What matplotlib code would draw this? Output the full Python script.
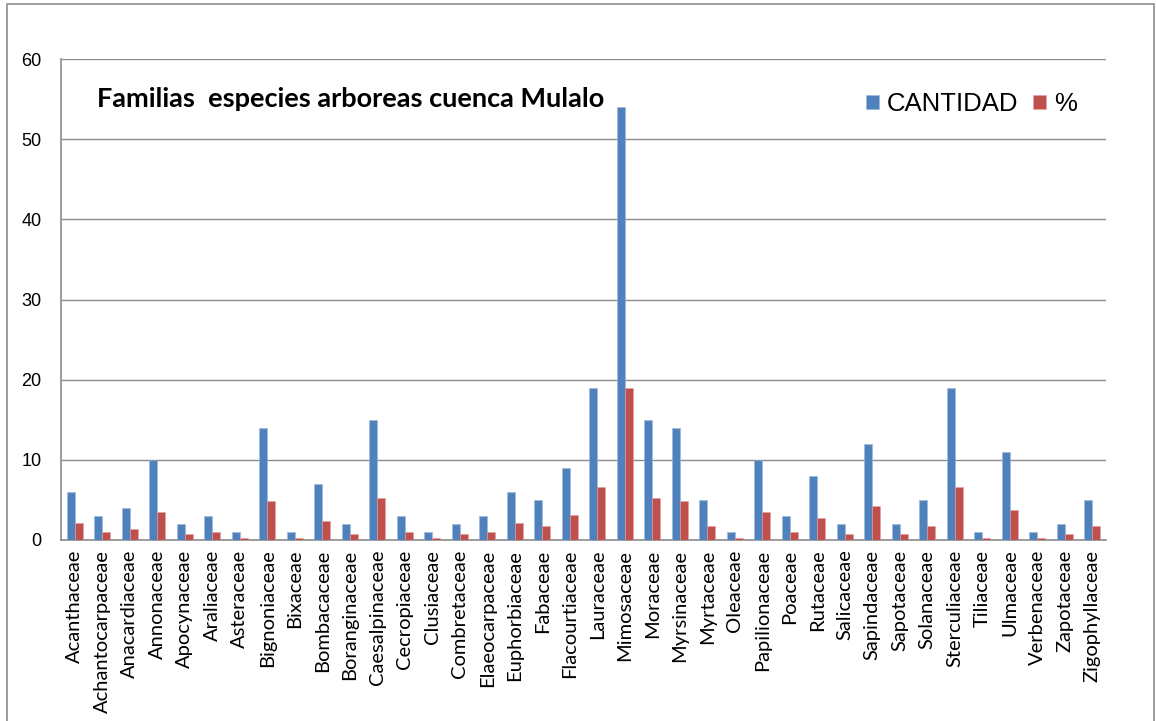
import matplotlib
matplotlib.use("Agg")
import matplotlib.pyplot as plt
import numpy as np
from matplotlib.patches import Rectangle

familias = ["Acanthaceae", "Achantocarpaceae", "Anacardiaceae", "Annonaceae", "Apocynaceae",
            "Araliaceae", "Asteraceae", "Bignoniaceae", "Bixaceae", "Bombacaceae",
            "Boranginaceae", "Caesalpinaceae", "Cecropiaceae", "Clusiaceae", "Combretaceae",
            "Elaeocarpaceae", "Euphorbiaceae", "Fabaceae", "Flacourtiaceae", "Lauraceae",
            "Mimosaceae", "Moraceae", "Myrsinaceae", "Myrtaceae", "Oleaceae",
            "Papilionaceae", "Poaceae", "Rutaceae", "Salicaceae", "Sapindaceae",
            "Sapotaceae", "Solanaceae", "Sterculiaceae", "Tiliaceae", "Ulmaceae",
            "Verbenaceae", "Zapotaceae", "Zigophyllaceae"]
cantidad = [6, 3, 4, 10, 2, 3, 1, 14, 1, 7, 2, 15, 3, 1, 2, 3, 6, 5, 9, 19,
            54, 15, 14, 5, 1, 10, 3, 8, 2, 12, 2, 5, 19, 1, 11, 1, 2, 5]
porcentaje = [2.1, 1.0, 1.4, 3.5, 0.7, 1.0, 0.3, 4.9, 0.3, 2.4, 0.7, 5.2, 1.0, 0.3, 0.7,
              1.0, 2.1, 1.7, 3.1, 6.6, 18.9, 5.2, 4.9, 1.7, 0.3, 3.5, 1.0, 2.8, 0.7, 4.2,
              0.7, 1.7, 6.6, 0.3, 3.8, 0.3, 0.7, 1.7]
y_ticks = [0, 10, 20, 30, 40, 50, 60]
titulo = "Familias  especies arboreas cuenca Mulalo"

W, H = 1156, 721
fig = plt.figure(figsize=(W / 100, H / 100), dpi=100)
fig.patch.set_facecolor("white")

# chart area border
fig.add_artist(Rectangle((7 / W, -0.05), (1154 - 7) / W, 1.05 - 4 / H,
                         transform=fig.transFigure, fill=False,
                         edgecolor="#8c8c8c", linewidth=1.2))

left, right, top, bottom = 61, 1106, 59, 540
ax = fig.add_axes([left / W, 1 - bottom / H, (right - left) / W, (bottom - top) / H])

x = np.arange(len(familias))
bw = 0.29
blue = "#4f81bd"
red = "#c0504d"
ax.bar(x - bw / 2, cantidad, bw, color=blue, label="CANTIDAD", zorder=3,
       edgecolor="#9bb7dc", linewidth=0.4)
ax.bar(x + bw / 2, porcentaje, bw, color=red, label="%", zorder=3,
       edgecolor="#e0a09e", linewidth=0.4)

ax.set_xlim(-0.5, len(familias) - 0.5)
ax.set_ylim(0, 60)
ax.set_yticks(y_ticks)
ax.set_yticklabels([str(v) for v in y_ticks], fontfamily="Liberation Sans", fontsize=13)
ax.set_xticks(x)
ax.set_xticklabels(familias, rotation=90, fontfamily="Lato", fontsize=14.5)
ax.tick_params(axis="x", length=0, pad=7)
ax.tick_params(axis="y", length=0, pad=14)
ax.yaxis.grid(True, color="#8c8c8c", linewidth=1.0, zorder=0)
ax.set_axisbelow(True)
for s in ["top", "right"]:
    ax.spines[s].set_visible(False)
for s in ["left", "bottom"]:
    ax.spines[s].set_color("#8c8c8c")
    ax.spines[s].set_linewidth(1.2)

ax.text(97 / W, 1 - 99 / H, titulo, transform=fig.transFigure, fontfamily="Lato",
        fontweight="bold", fontsize=19.5, va="center", ha="left")

leg = ax.legend(loc="center left", bbox_to_anchor=(866 / W, 1 - 104 / H),
                bbox_transform=fig.transFigure, ncol=2, frameon=False,
                prop={"family": "Liberation Sans", "size": 18.5},
                handlelength=0.5, handleheight=0.5, handletextpad=0.3,
                columnspacing=0.6, borderaxespad=0, borderpad=0)

fig.savefig("out.png", dpi=100, facecolor="white")
